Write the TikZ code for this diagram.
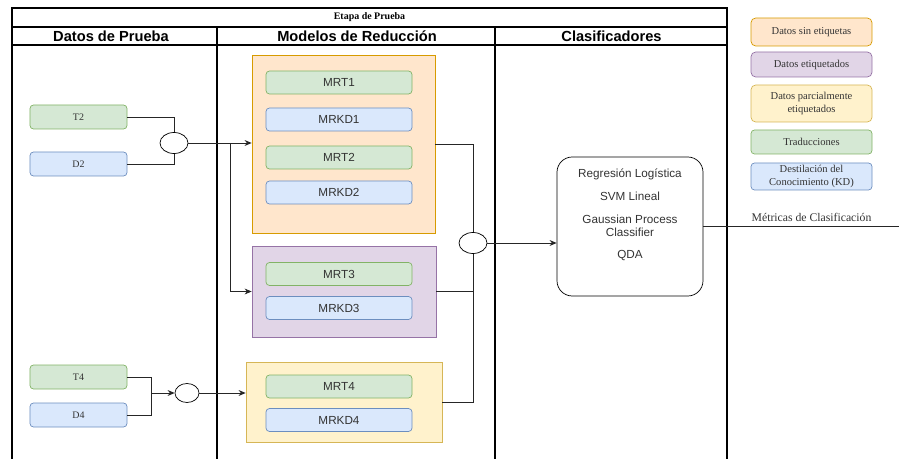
\documentclass[tikz,border=0pt]{standalone}
\usepackage{fontspec}
\setmainfont{Liberation Serif}
\setsansfont{Liberation Sans}
\usetikzlibrary{arrows.meta,shapes.geometric}

\definecolor{gfill}{HTML}{D5E8D4}
\definecolor{gline}{HTML}{82B366}
\definecolor{bfill}{HTML}{DAE8FC}
\definecolor{bline}{HTML}{6C8EBF}
\definecolor{ofill}{HTML}{FFE6CC}
\definecolor{oline}{HTML}{D79B00}
\definecolor{pfill}{HTML}{E1D5E7}
\definecolor{pline}{HTML}{9673A6}
\definecolor{yfill}{HTML}{FFF2CC}
\definecolor{yline}{HTML}{D6B656}

\begin{document}
\begin{tikzpicture}[x=0.03cm, y=-0.03cm,
	every node/.style={font=\sffamily\fontsize{10}{12}\selectfont, text=black!80},
	trad/.style={draw=gline, fill=gfill, rounded corners=3pt, inner sep=0pt, line width=0.6pt},
	dest/.style={draw=bline, fill=bfill, rounded corners=3pt, inner sep=0pt, line width=0.6pt},
	modelo/.style={minimum width=4.38cm, minimum height=0.69cm},
	prueba/.style={minimum width=2.91cm, minimum height=0.72cm, font=\fontsize{8.5}{10}\selectfont},
	grupo/.style={inner sep=0pt, line width=0.6pt},
	leyenda/.style={rounded corners=4pt, minimum width=3.63cm, inner sep=0pt, align=center, line width=0.6pt, font=\fontsize{9}{10.5}\selectfont},
	union/.style={draw, fill=white, ellipse, inner sep=0pt, line width=0.6pt},
	flujo/.style={draw=black!85, line width=0.6pt, -{Stealth[length=6pt,width=5pt]}},
	linea/.style={draw=black!85, line width=0.6pt},
	cab/.style={font=\sffamily\bfseries\fontsize{12.5}{14}\selectfont, text=black}]
	
	\useasboundingbox (0,0) rectangle (899,459);
	
	% Rahmen der Etappe
	\draw[line width=0.9pt] (12,459) -- (12,8) -- (727,8) -- (727,459);
	\draw[line width=0.9pt] (12,27) -- (727,27);
	\draw[line width=0.9pt] (12,45) -- (727,45);
	\draw[line width=0.9pt] (217,27) -- (217,459);
	\draw[line width=0.9pt] (495,27) -- (495,459);
	
	\node[font=\bfseries\fontsize{8.5}{10}\selectfont, text=black] (etapa) at (369.5,17.5) {Etapa de Prueba};
	\node[cab] (hdatos) at (111,36) {Datos de Prueba};
	\node[cab] (hmodelos) at (357,36) {Modelos de Reducción};
	\node[cab] (hclas) at (611.5,36) {Clasificadores};
	
	% Datos de prueba
	\node[trad, prueba] (t2) at (78.5,117) {T2};
	\node[dest, prueba] (d2) at (78.5,164) {D2};
	\node[trad, prueba] (t4) at (78.5,377) {T4};
	\node[dest, prueba] (d4) at (78.5,415) {D4};
	
	\node[union, minimum width=0.84cm, minimum height=0.63cm] (u1) at (174,143) {};
	\node[union, minimum width=0.72cm, minimum height=0.57cm] (u3) at (187,393) {};
	
	% Grupos de modelos
	\node[grupo, draw=oline, fill=ofill, minimum width=5.49cm, minimum height=5.34cm] (naranja) at (343.5,144) {};
	\node[grupo, draw=pline, fill=pfill, minimum width=5.52cm, minimum height=2.73cm] (morado) at (344,291.5) {};
	\node[grupo, draw=yline, fill=yfill, minimum width=5.88cm, minimum height=2.4cm] (amarillo) at (344,402) {};
	
	\node[trad, modelo] (mrt1) at (339,82.5) {MRT1};
	\node[dest, modelo] (mrkd1) at (339,119.5) {MRKD1};
	\node[trad, modelo] (mrt2) at (339,157.5) {MRT2};
	\node[dest, modelo] (mrkd2) at (339,192.5) {MRKD2};
	\node[trad, modelo] (mrt3) at (339,274) {MRT3};
	\node[dest, modelo] (mrkd3) at (339,308) {MRKD3};
	\node[trad, modelo] (mrt4) at (339,386.5) {MRT4};
	\node[dest, modelo] (mrkd4) at (339,420) {MRKD4};
	
	\node[union, minimum width=0.84cm, minimum height=0.63cm] (u2) at (473,243) {};
	
	% Clasificadores
	\node[draw, rounded corners=13pt, line width=0.6pt, minimum width=4.38cm, minimum height=4.17cm] (clf) at (630,226.5) {};
	\node[align=center, inner sep=0pt, font=\sffamily\fontsize{10}{11}\selectfont] (clflista) at (630,215) {Regresión Logística\\[8.5pt]SVM Lineal\\[8.5pt]Gaussian Process\\Classifier\\[8.5pt]QDA};
	
	% Leyenda
	\node[leyenda, draw=oline, fill=ofill, minimum height=0.84cm] (lsin) at (811.5,32) {Datos sin etiquetas};
	\node[leyenda, draw=pline, fill=pfill, minimum height=0.75cm] (leti) at (811.5,64.5) {Datos etiquetados};
	\node[leyenda, draw=yline, fill=yfill, minimum height=1.11cm] (lpar) at (811.5,103.5) {Datos parcialmente\\etiquetados};
	\node[leyenda, trad, minimum height=0.72cm] (ltrad) at (811.5,142) {Traducciones};
	\node[leyenda, dest, minimum height=0.81cm] (ldest) at (811.5,176.5) {Destilación del\\Conocimiento (KD)};
	
	% Conexiones
	\draw[linea] (t2.east) -| (u1.north);
	\draw[linea] (d2.east) -| (u1.south);
	\draw[flujo] (u1.east) -- (u1.east -| naranja.west);
	\coordinate (rama) at (230,143);
	\draw[flujo] (rama) |- (morado.west);
	
	\coordinate (j4) at (151,393);
	\draw[linea] (t4.east) -| (j4);
	\draw[linea] (d4.east) -| (j4);
	\draw[flujo] (j4) -- (u3.west);
	\draw[flujo] (u3.east) -- (u3.east -| amarillo.west);
	
	\draw[linea] (naranja.east) -| (u2.north);
	\draw[linea] (morado.east) -| (u2.south);
	\draw[linea] (amarillo.east) -| (u2.south);
	\draw[flujo] (u2.east) -- (u2.east -| clf.west);
	
	\coordinate (salida) at (899,226.5);
	\draw[linea] (clf.east) -- (salida);
	\node[font=\fontsize{10}{12}\selectfont] (metricas) at (811.5,217.5) {Métricas de Clasificación};
	
\end{tikzpicture}
\end{document}
